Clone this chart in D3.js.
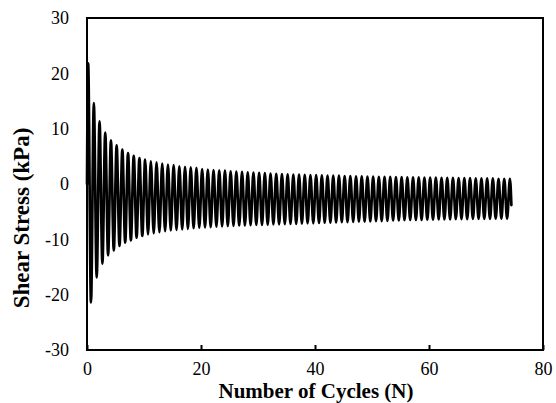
<!DOCTYPE html>
<html>
<head>
<meta charset="utf-8">
<script src="https://cdn.jsdelivr.net/npm/d3@7"></script>
<style>
  body { margin: 0; background: #fff; }
  text { font-family: "Liberation Serif", "Times New Roman", serif; }
</style>
</head>
<body>
<div id="chart"></div>
<script>
// peak shear stress of each cycle (kPa)
const maxStress = [
  21.8, 14.6, 11.3, 9.3, 7.9, 7.0, 6.2, 5.6, 5.1, 4.7,
  4.4, 4.1, 3.9, 3.7, 3.5, 3.4, 3.2, 3.1, 3.0, 2.9,
  2.7, 2.6, 2.5, 2.45, 2.4, 2.3, 2.25, 2.2, 2.1, 2.05,
  2.0, 1.95, 1.9, 1.85, 1.8, 1.75, 1.7, 1.7, 1.65, 1.6,
  1.6, 1.55, 1.5, 1.5, 1.5, 1.45, 1.45, 1.4, 1.4, 1.35,
  1.35, 1.3, 1.3, 1.3, 1.25, 1.25, 1.2, 1.2, 1.2, 1.15,
  1.15, 1.15, 1.1, 1.1, 1.1, 1.05, 1.05, 1.05, 1.0, 1.0,
  1.0, 1.0, 0.95, 0.95, 0.95,
];
const minStress = [
  -21.4, -16.9, -14.4, -12.9, -12.0, -11.2, -10.6, -10.2, -9.7, -9.4,
  -9.1, -8.9, -8.7, -8.5, -8.4, -8.3, -8.2, -8.1, -8.0, -7.9,
  -7.85, -7.8, -7.7, -7.65, -7.6, -7.55, -7.5, -7.5, -7.45, -7.4,
  -7.4, -7.35, -7.3, -7.3, -7.25, -7.2, -7.2, -7.15, -7.1, -7.1,
  -7.05, -7.0, -7.0, -6.95, -6.9, -6.9, -6.85, -6.8, -6.8, -6.75,
  -6.7, -6.7, -6.65, -6.6, -6.6, -6.55, -6.5, -6.5, -6.5, -6.45,
  -6.45, -6.4, -6.4, -6.4, -6.35, -6.35, -6.35, -6.3, -6.3, -6.3,
  -6.3, -6.25, -6.25, -6.25,
];
const startPoint = { n: 0, s: 0 };
const endPoint = { n: 74.45, s: -3.8 };
const maxPhase = 0.2; // position of the peak within a cycle
const minPhase = 0.7;

const xTicks = [0, 20, 40, 60, 80];
const yTicks = [-30, -20, -10, 0, 10, 20, 30];
const xTitle = "Number of Cycles (N)";
const yTitle = "Shear Stress (kPa)";

const W = 556, H = 403;
const margin = { top: 18, right: 13, bottom: 53, left: 87 };
const width = W - margin.left - margin.right,
  height = H - margin.top - margin.bottom;

const svg = d3
  .select("#chart")
  .append("svg")
  .attr("width", W)
  .attr("height", H);

const g = svg
  .append("g")
  .attr("transform", `translate(${margin.left},${margin.top})`);

const x = d3.scaleLinear().domain([0, 80]).range([0, width]);
const y = d3.scaleLinear().domain([-30, 30]).range([height, 0]);

// build the trace from alternating peaks and troughs
const points = [startPoint];
maxStress.forEach((v, k) => {
  points.push({ n: k + maxPhase, s: v });
  if (k < minStress.length) points.push({ n: k + minPhase, s: minStress[k] });
});
points.push(endPoint);

const line = d3
  .line()
  .x((d) => x(d.n))
  .y((d) => y(d.s))
  .curve(d3.curveMonotoneX);

g.append("path")
  .datum(points)
  .attr("fill", "none")
  .attr("stroke", "#000")
  .attr("stroke-width", 2.7)
  .attr("stroke-linejoin", "round")
  .attr("stroke-linecap", "round")
  .attr("d", line);

// frame
g.append("rect")
  .attr("x", 0)
  .attr("y", 0)
  .attr("width", width)
  .attr("height", height)
  .attr("fill", "none")
  .attr("stroke", "#000")
  .attr("stroke-width", 2);

// x axis (inside ticks)
const xAxis = g
  .append("g")
  .attr("transform", `translate(0,${height})`)
  .call(
    d3.axisBottom(x).tickValues(xTicks).tickSizeInner(-5).tickSizeOuter(0)
      .tickPadding(12).tickFormat((d) => String(d))
  );
xAxis.select(".domain").remove();
xAxis.selectAll("line").attr("stroke-width", 2);
xAxis.selectAll("text").style("font-size", "18px").attr("fill", "#000");

// y axis
const yAxis = g
  .append("g")
  .call(
    d3.axisLeft(y).tickValues(yTicks).tickSize(0).tickPadding(18)
      .tickFormat((d) => String(d))
  );
yAxis.select(".domain").remove();
yAxis.selectAll("text").style("font-size", "18px").attr("fill", "#000");

// axis titles
svg
  .append("text")
  .attr("x", 316)
  .attr("y", 398)
  .attr("text-anchor", "middle")
  .style("font-size", "21px")
  .style("font-weight", "bold")
  .text(xTitle);

svg
  .append("text")
  .attr("transform", "translate(29,218) rotate(-90)")
  .attr("text-anchor", "middle")
  .style("font-size", "23px")
  .style("font-weight", "bold")
  .text(yTitle);
</script>
</body>
</html>
